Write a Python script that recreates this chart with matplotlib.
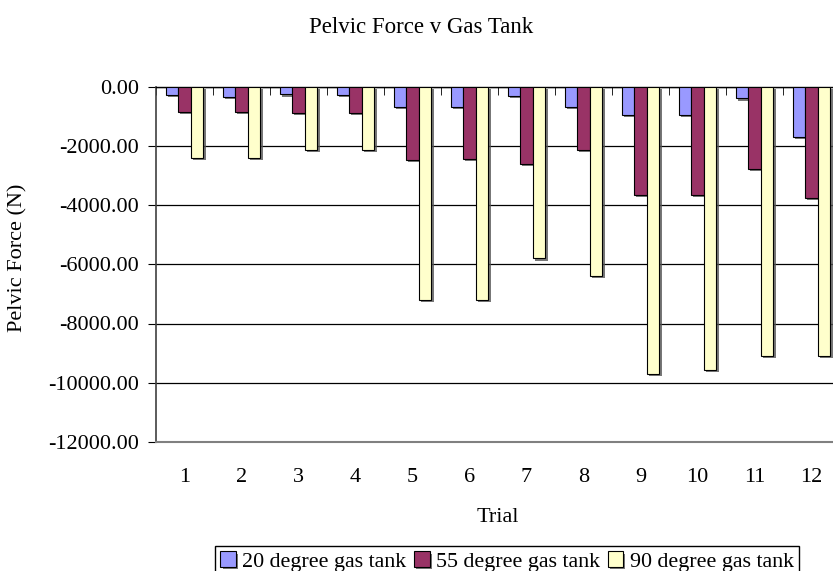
import numpy as np
import matplotlib
matplotlib.use('Agg')
import matplotlib.pyplot as plt
import matplotlib.patheffects as pe
from matplotlib.ticker import FormatStrFormatter

trials = [1, 2, 3, 4, 5, 6, 7, 8, 9, 10, 11, 12]
tank_20 = [-300, -340, -270, -280, -690, -690, -330, -690, -970, -970, -405, -1700]
tank_55 = [-850, -850, -900, -900, -2490, -2440, -2610, -2130, -3650, -3650, -2780, -3750]
tank_90 = [-2410, -2410, -2150, -2150, -7220, -7220, -5805, -6400, -9707, -9583, -9100, -9100]

labels = ['20 degree gas tank', '55 degree gas tank', '90 degree gas tank']
colors = ['#9999FF', '#993366', '#FFFFCC']

plt.rcParams['font.family'] = ['Liberation Serif', 'DejaVu Serif']
fs = 16

fig = plt.figure(figsize=(8.33, 5.71), dpi=100)
ax = fig.add_axes([156 / 833, 1 - 442 / 571, 684 / 833, (442 - 86.5) / 571])

x = np.array(trials)
w = 0.222
shadow = [pe.SimplePatchShadow(offset=(1.5, -1.5), shadow_rgbFace='#555555', alpha=0.8), pe.Normal()]
for i, (vals, lab, col) in enumerate(zip([tank_20, tank_55, tank_90], labels, colors)):
    bars = ax.bar(x + (i - 1) * w, vals, width=w, color=col, edgecolor='black',
                  linewidth=0.8, label=lab, zorder=3)
    for b in bars:
        b.set_path_effects(shadow)

ax.set_xlim(0.5, 12.5)
ax.set_ylim(-12000, 0)
ax.set_yticks(np.arange(-12000, 1, 2000))
ax.yaxis.set_major_formatter(FormatStrFormatter('%.2f'))
ax.yaxis.grid(True, color='black', linewidth=0.9, zorder=0)
ax.set_axisbelow(True)

ax.set_xticks(x)
ax.set_xticks(np.arange(0.5, 13, 1), minor=True)
ax.tick_params(axis='x', which='major', length=0, pad=19, labelsize=fs)
ax.tick_params(axis='x', which='minor', bottom=False, top=True, direction='in', length=6, color='black')
ax.tick_params(axis='y', direction='out', length=6, labelsize=fs, pad=6)

for s in ['bottom', 'right']:
    ax.spines[s].set_color('#808080')
    ax.spines[s].set_linewidth(1.5)
ax.spines['top'].set_color('black')
ax.spines['top'].set_linewidth(1.0)
ax.spines['left'].set_color('#404040')
ax.spines['left'].set_linewidth(1.2)

ax.set_xlabel('Trial', fontsize=fs, labelpad=15)
fig.text(18 / 833, 1 - 258 / 571, 'Pelvic Force (N)', rotation=90, fontsize=fs,
         ha='center', va='center')
fig.suptitle('Pelvic Force v Gas Tank', fontsize=16.5, x=421 / 833, y=1 - 17 / 571, va='top')

fig.legend(loc='upper left', bbox_to_anchor=(215 / 833, 1 - 546 / 571), ncol=3,
           fontsize=15.8, frameon=True, fancybox=False, edgecolor='black', framealpha=1,
           handlelength=0.7, handleheight=0.7, handletextpad=0.3, columnspacing=0.35,
           borderpad=0.25, borderaxespad=0)

fig.savefig('out.png', dpi=100)
